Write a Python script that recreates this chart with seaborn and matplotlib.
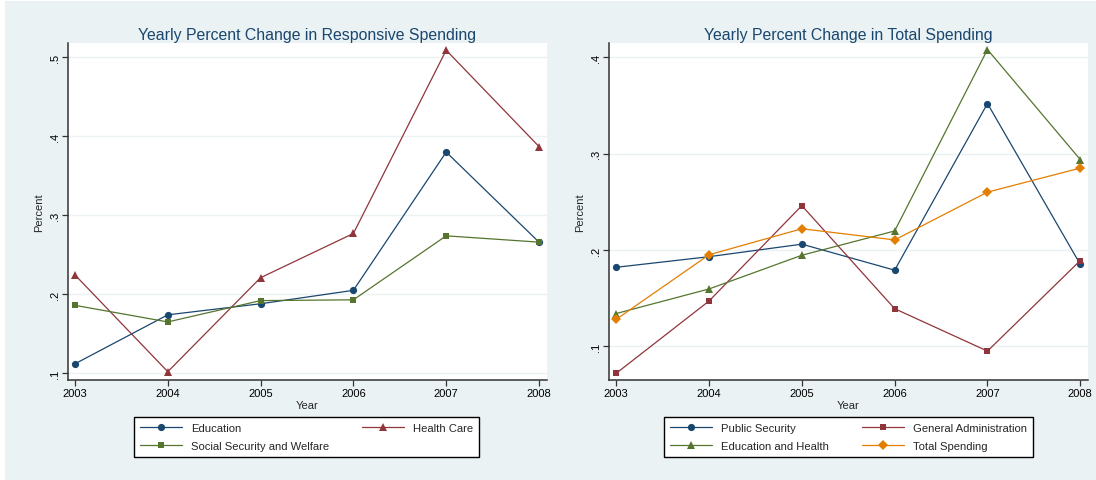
import numpy as np
import pandas as pd
import matplotlib
matplotlib.use("Agg")
import matplotlib.pyplot as plt
from matplotlib.patches import Rectangle
import seaborn as sns

# ---------------- data ----------------
years = [2003, 2004, 2005, 2006, 2007, 2008]

# Left panel: responsive spending
education = [0.112, 0.174, 0.188, 0.205, 0.380, 0.266]
health_care = [0.2245, 0.102, 0.221, 0.277, 0.509, 0.387]
social_security = [0.186, 0.165, 0.192, 0.193, 0.274, 0.266]

# Right panel: total spending
public_security = [0.182, 0.193, 0.206, 0.179, 0.352, 0.185]
general_admin = [0.072, 0.147, 0.246, 0.139, 0.095, 0.189]
education_health = [0.134, 0.1595, 0.1945, 0.2197, 0.408, 0.2938]
total_spending = [0.128, 0.195, 0.222, 0.2104, 0.260, 0.285]

left_names = ["Education", "Health Care", "Social Security and Welfare"]
right_names = ["Public Security", "General Administration",
               "Education and Health", "Total Spending"]

left_yticks = [0.1, 0.2, 0.3, 0.4, 0.5]
left_yticklabels = [".1", ".2", ".3", ".4", ".5"]
right_yticks = [0.1, 0.2, 0.3, 0.4]
right_yticklabels = [".1", ".2", ".3", ".4"]

left_title = "Yearly Percent Change in Responsive Spending"
right_title = "Yearly Percent Change in Total Spending"

# ---------------- style ----------------
sns.set_theme(style="white")
plt.rcParams["font.family"] = ["Liberation Sans", "DejaVu Sans"]

NAVY = "#1a476f"
MAROON = "#90353b"
GREEN = "#55752f"
ORANGE = "#e37e00"
BG = "#eaf2f3"

def long_df(names, series):
    rows = []
    for n, vals in zip(names, series):
        for y, v in zip(years, vals):
            rows.append({"Year": y, "Percent": v, "Series": n})
    return pd.DataFrame(rows)

df_left = long_df(left_names, [education, health_care, social_security])
df_right = long_df(right_names, [public_security, general_admin,
                                 education_health, total_spending])

W, H = 1096, 481
fig = plt.figure(figsize=(W / 100, H / 100), dpi=100, facecolor="white")
fig.patches.append(Rectangle((5 / W, 0), 1 - 5 / W, 1 - 2 / H,
                             transform=fig.transFigure, facecolor=BG,
                             edgecolor="none", zorder=-10))

ax_l = fig.add_axes([68.3 / W, 1 - 381 / H, (546.7 - 68.3) / W, (381 - 44.3) / H])
ax_r = fig.add_axes([609.3 / W, 1 - 381 / H, (1087.7 - 609.3) / W, (381 - 44.3) / H])


def draw(ax, df, names, palette, markers, sizes, yticks, yticklabels, ylim, xlim, title):
    sns.lineplot(data=df, x="Year", y="Percent", hue="Series", style="Series",
                 hue_order=names, style_order=names, palette=palette,
                 markers=markers, dashes=False, linewidth=0.9,
                 markeredgewidth=0, ax=ax, legend=True)
    for line, name in zip(ax.get_lines(), names):
        line.set_markersize(sizes[name])
    ax.set_facecolor("white")
    ax.set_ylim(*ylim)
    ax.set_xlim(*xlim)
    ax.set_yticks(yticks)
    ax.set_yticklabels(yticklabels, rotation=90, va="center", fontsize=8)
    ax.set_xticks(years)
    ax.set_xticklabels([str(y) for y in years], fontsize=8)
    ax.grid(axis="y", color=BG, linewidth=1.0)
    ax.grid(axis="x", visible=False)
    for s in ["top", "right"]:
        ax.spines[s].set_visible(False)
    for s in ["left", "bottom"]:
        ax.spines[s].set_color("#333333")
        ax.spines[s].set_linewidth(1.1)
    ax.tick_params(axis="both", which="major", direction="out", length=4,
                   width=0.9, color="#333333", pad=2, left=True, bottom=True,
                   labelcolor="black")
    ax.set_xlabel("Year", fontsize=8, labelpad=1)
    ax.set_ylabel("Percent", fontsize=8, labelpad=4)
    ax.set_title(title, fontsize=11.4, color=NAVY, pad=3)
    handles, labels = ax.get_legend_handles_labels()
    ax.get_legend().remove()
    hmap = dict(zip(labels, handles))
    for name, h in hmap.items():
        h.set_markersize(sizes[name])
        h.set_markeredgewidth(0)
        h.set_linewidth(0.9)
    return hmap


sizes_l = {"Education": 5.2, "Health Care": 5.6,
           "Social Security and Welfare": 5.0}
sizes_r = {"Public Security": 5.2, "General Administration": 5.0,
           "Education and Health": 5.6, "Total Spending": 5.0}

hl = draw(ax_l, df_left, left_names,
          {"Education": NAVY, "Health Care": MAROON,
           "Social Security and Welfare": GREEN},
          {"Education": "o", "Health Care": "^",
           "Social Security and Welfare": "s"},
          sizes_l,
          left_yticks, left_yticklabels, (0.0915, 0.5177),
          (2003 - 0.072, 2008 + 0.083), left_title)

hr = draw(ax_r, df_right, right_names,
          {"Public Security": NAVY, "General Administration": MAROON,
           "Education and Health": GREEN, "Total Spending": ORANGE},
          {"Public Security": "o", "General Administration": "s",
           "Education and Health": "^", "Total Spending": "D"},
          sizes_r,
          right_yticks, right_yticklabels, (0.065, 0.4145),
          (2003 - 0.075, 2008 + 0.08), right_title)

# legends (column-major order to mimic row-major layout)
order_l = ["Education", "Social Security and Welfare", "Health Care"]
order_r = ["Public Security", "Education and Health",
           "General Administration", "Total Spending"]

leg_kw = dict(ncol=2, mode="expand", fontsize=8.1, frameon=True,
              fancybox=False, handlelength=3.8, handletextpad=0.8,
              labelspacing=0.78, borderpad=0.5, borderaxespad=0,
              bbox_transform=fig.transFigure, loc="upper left")

leg_l = ax_l.legend([hl[k] for k in order_l], order_l,
                    bbox_to_anchor=(134 / W, 1 - 418 / H, (479 - 134) / W, 0.0),
                    **leg_kw)
leg_r = ax_r.legend([hr[k] for k in order_r], order_r,
                    bbox_to_anchor=(664 / W, 1 - 418 / H, (1033 - 664) / W, 0.0),
                    **leg_kw)
for leg in (leg_l, leg_r):
    fr = leg.get_frame()
    fr.set_edgecolor("black")
    fr.set_linewidth(1.0)
    fr.set_facecolor("white")
    fr.set_alpha(1)

fig.savefig("out.png", dpi=100, facecolor=fig.get_facecolor())
